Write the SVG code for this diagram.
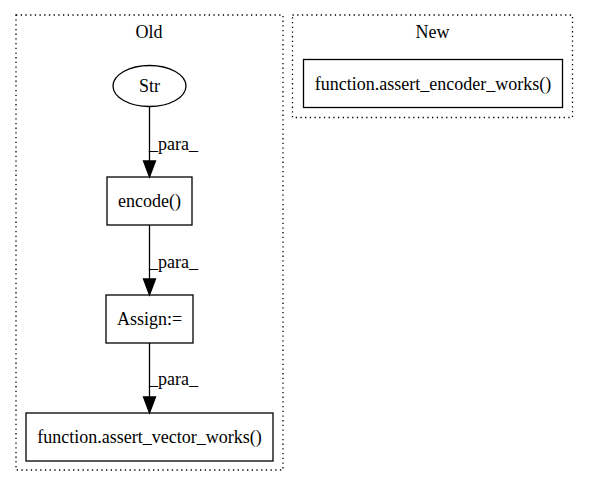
<svg xmlns="http://www.w3.org/2000/svg" width="589" height="488" viewBox="0 0 589 488">
<style>
text{font-family:"Liberation Serif","Times New Roman",serif;font-size:18px;fill:#000}
.c{text-anchor:middle}
.cl{fill:none;stroke:#000;stroke-width:1.3;stroke-dasharray:1.3,3.4}
.n{fill:none;stroke:#000;stroke-width:1.3}
.e{stroke:#000;stroke-width:1.3;fill:none}
.ah{fill:#000;stroke:#000;stroke-width:1.3}
</style>
<rect width="589" height="488" fill="#fff"/>
<g id="cluster_old">
<rect class="cl" x="16" y="15" width="267" height="455"/>
<text class="c" x="149" y="38">Old</text>
</g>
<g id="cluster_new">
<rect class="cl" x="292.5" y="15" width="280" height="102.5"/>
<text class="c" x="432.5" y="38">New</text>
</g>
<g id="node_str">
<ellipse class="n" cx="149.5" cy="86" rx="36.5" ry="20.5"/>
<text class="c" x="149.5" y="92">Str</text>
</g>
<g id="node_encode">
<rect class="n" x="107" y="177" width="85" height="48"/>
<text class="c" x="149.5" y="207">encode()</text>
</g>
<g id="node_assign">
<rect class="n" x="106" y="295" width="87" height="48"/>
<text class="c" x="149.5" y="325">Assign:=</text>
</g>
<g id="node_vector">
<rect class="n" x="26" y="413" width="247" height="48"/>
<text class="c" x="149.5" y="443">function.assert_vector_works()</text>
</g>
<g id="node_encoder">
<rect class="n" x="303.5" y="59.5" width="259" height="48"/>
<text class="c" x="433" y="89.5">function.assert_encoder_works()</text>
</g>
<g id="edges">
<path class="e" d="M149.5,106.5 L149.5,161"/>
<polygon class="ah" points="143.5,161 155.5,161 149.5,177"/>
<text x="149" y="150">_para_</text>
<path class="e" d="M149.5,225 L149.5,279"/>
<polygon class="ah" points="143.5,279 155.5,279 149.5,295"/>
<text x="149" y="268">_para_</text>
<path class="e" d="M149.5,343 L149.5,397"/>
<polygon class="ah" points="143.5,397 155.5,397 149.5,413"/>
<text x="149" y="385">_para_</text>
</g>
</svg>
